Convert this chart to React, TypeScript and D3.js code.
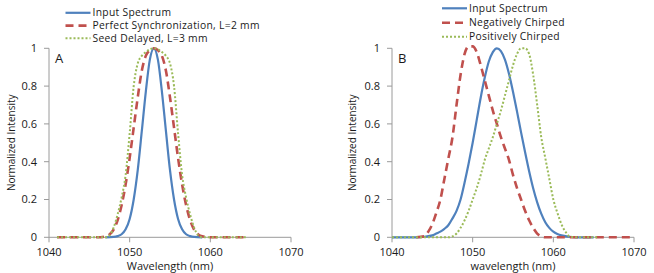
import React from 'react';
import * as d3 from 'd3';

// wavelength ticks and intensity ticks shared by both panels
const wavelengthTicks = [1040, 1050, 1060, 1070];
const intensityTicks = [0, 0.2, 0.4, 0.6, 0.8, 1];

// panel A: [wavelength nm, normalized intensity]
const inputSpectrumA: [number, number][] = [
  [1047, 0], [1048, 0.002], [1048.5, 0.006], [1049, 0.016], [1049.5, 0.042],
  [1050, 0.097], [1050.5, 0.2], [1051, 0.355], [1051.5, 0.56], [1052, 0.77],
  [1052.5, 0.94], [1053, 1], [1053.5, 0.94], [1054, 0.77], [1054.5, 0.56],
  [1055, 0.355], [1055.5, 0.2], [1056, 0.097], [1056.5, 0.042], [1057, 0.016],
  [1057.5, 0.006], [1058, 0.002], [1059, 0],
];
const perfectSyncA: [number, number][] = [
  [1041, 0], [1046, 0], [1047, 0.005], [1047.5, 0.015], [1048, 0.04], [1048.5, 0.09],
  [1049, 0.17], [1049.5, 0.28], [1050, 0.42], [1050.5, 0.58], [1051, 0.74],
  [1051.5, 0.88], [1052, 0.96], [1052.5, 0.99], [1053, 1], [1053.5, 0.99],
  [1054, 0.96], [1054.5, 0.88], [1055, 0.74], [1055.5, 0.58], [1056, 0.42],
  [1056.5, 0.28], [1057, 0.17], [1057.5, 0.09], [1058, 0.04], [1058.5, 0.015],
  [1059, 0.005], [1060, 0], [1064.5, 0],
];
const seedDelayedA: [number, number][] = [
  [1041, 0], [1047, 0], [1047.5, 0.01], [1048, 0.05], [1048.5, 0.12], [1049, 0.21],
  [1049.5, 0.33], [1050, 0.55], [1050.5, 0.8], [1051, 0.92], [1051.5, 0.96],
  [1052, 0.98], [1052.5, 0.995], [1053, 1], [1053.5, 0.995], [1054, 0.98],
  [1054.5, 0.96], [1055, 0.92], [1055.5, 0.8], [1056, 0.55], [1056.5, 0.33],
  [1057, 0.21], [1057.5, 0.12], [1058, 0.05], [1058.5, 0.01], [1059, 0], [1064.5, 0],
];

// panel B
const inputSpectrumB: [number, number][] = [
  [1040, 0], [1043, 0], [1044, 0.003], [1045, 0.01], [1045.5, 0.02], [1046, 0.03],
  [1046.5, 0.045], [1047, 0.065], [1047.5, 0.1], [1048, 0.14], [1048.5, 0.2],
  [1049, 0.29], [1049.5, 0.39], [1050, 0.5], [1050.5, 0.62], [1051, 0.74],
  [1051.5, 0.845], [1052, 0.93], [1052.5, 0.98], [1053, 1], [1053.5, 0.985],
  [1054, 0.94], [1054.5, 0.865], [1055, 0.77], [1055.5, 0.665], [1056, 0.555],
  [1056.5, 0.45], [1057, 0.35], [1057.5, 0.26], [1058, 0.185], [1058.5, 0.125],
  [1059, 0.08], [1059.5, 0.05], [1060, 0.03], [1060.5, 0.018], [1061, 0.01],
  [1062, 0.003], [1063, 0], [1065, 0],
];
const negChirpedB: [number, number][] = [
  [1043, 0], [1044, 0.005], [1044.5, 0.03], [1045, 0.07], [1045.5, 0.13],
  [1046, 0.2], [1046.5, 0.31], [1047, 0.42], [1047.5, 0.53], [1048, 0.7],
  [1048.5, 0.86], [1049, 0.97], [1049.5, 1.01], [1050, 1.01], [1050.5, 0.98],
  [1051, 0.91], [1051.5, 0.83], [1052, 0.75], [1052.5, 0.67], [1053, 0.6],
  [1053.5, 0.53], [1054, 0.47], [1054.5, 0.41], [1055, 0.33], [1055.5, 0.26],
  [1056, 0.2], [1056.5, 0.14], [1057, 0.09], [1057.5, 0.05], [1058, 0.02],
  [1058.5, 0.005], [1059, 0], [1070, 0],
];
const posChirpedB: [number, number][] = [
  [1040, 0], [1047, 0], [1047.5, 0.005], [1048, 0.02], [1048.5, 0.05], [1049, 0.09],
  [1049.5, 0.14], [1050, 0.2], [1050.5, 0.26], [1051, 0.33], [1051.5, 0.41],
  [1052, 0.47], [1052.5, 0.53], [1053, 0.6], [1053.5, 0.67], [1054, 0.75],
  [1054.5, 0.83], [1055, 0.91], [1055.5, 0.97], [1056, 1], [1056.5, 1],
  [1057, 0.97], [1057.5, 0.86], [1058, 0.7], [1058.5, 0.53], [1059, 0.42],
  [1059.5, 0.31], [1060, 0.2], [1060.5, 0.13], [1061, 0.07], [1061.5, 0.03],
  [1062, 0.005], [1063, 0], [1065.5, 0],
];

const legendA = ['Input Spectrum', 'Perfect Synchronization, L=2 mm', 'Seed Delayed, L=3 mm'];
const legendB = ['Input Spectrum', 'Negatively Chirped', 'Positively Chirped'];

const FONT = '"Open Sans", Lato, sans-serif';
const AXIS = '#9a9a9a';
const TEXT = '#1a1a1a';

// excel-ish line styles: solid blue, dashed red, dotted green
const styles = [
  {stroke: '#4F81BD', width: 2.2, dash: undefined as string | undefined},
  {stroke: '#C0504D', width: 2.6, dash: '8 5'},
  {stroke: '#9BBB59', width: 2, dash: '2 2'},
];

type PanelProps = {
  left: number;
  right: number;
  series: [number, number][][];
  labels: string[];
  letter: string;
  xTitle: string;
  yTitleX: number;
  legendX: number;
  legendY: number[];
};

const Panel = ({left, right, series, labels, letter, xTitle, yTitleX, legendX, legendY}: PanelProps) => {
  const top = 48.3;
  const bottom = 237.3;
  const x = d3.scaleLinear().domain([1040, 1070]).range([left, right]);
  const y = d3.scaleLinear().domain([0, 1]).range([bottom, top]);
  const path = d3.line<[number, number]>()
    .x(d => x(d[0]))
    .y(d => y(d[1]))
    .curve(d3.curveMonotoneX);

  return (
    <g fontFamily={FONT} fill={TEXT}>
      {/* axes */}
      <line x1={left} x2={left} y1={top} y2={bottom} stroke={AXIS} />
      <line x1={left} x2={right} y1={bottom} y2={bottom} stroke={AXIS} />
      {intensityTicks.map(t => (
        <g key={t}>
          <line x1={left - 5} x2={left} y1={y(t)} y2={y(t)} stroke={AXIS} />
          <text x={left - 12} y={y(t)} dy="0.35em" textAnchor="end" fontSize={11}>{t}</text>
        </g>
      ))}
      {wavelengthTicks.map(t => (
        <g key={t}>
          <line x1={x(t)} x2={x(t)} y1={bottom} y2={bottom + 5} stroke={AXIS} />
          <text x={x(t)} y={251.7} dy="0.35em" textAnchor="middle" fontSize={11}>{t}</text>
        </g>
      ))}
      <text x={(left + right) / 2} y={266} dy="0.35em" textAnchor="middle" fontSize={11}>{xTitle}</text>
      <text transform={`translate(${yTitleX},${(top + bottom) / 2}) rotate(-90)`} dy="0.35em"
        textAnchor="middle" fontSize={10}>Normalized Intensity</text>
      <text x={left + 6} y={58.5} dy="0.35em" fontSize={13}>{letter}</text>

      {series.map((s, i) => (
        <path key={i} d={path(s) || ''} fill="none" stroke={styles[i].stroke}
          strokeWidth={styles[i].width} strokeDasharray={styles[i].dash} />
      ))}

      {/* legend - rows are tight in the original, so a slightly smaller font with a bit of tracking */}
      {labels.map((l, i) => (
        <g key={l}>
          <line x1={legendX} x2={legendX + 25} y1={legendY[i]} y2={legendY[i]}
            stroke={styles[i].stroke} strokeWidth={styles[i].width} strokeDasharray={styles[i].dash} />
          <text x={legendX + 27} y={legendY[i]} dy="0.35em" fontSize={10.3} letterSpacing={0.3}>{l}</text>
        </g>
      ))}
    </g>
  );
};

const App = () => (
  <svg width={654} height={273} style={{position: 'absolute', left: 0, top: 0, background: '#fff'}}>
    <Panel left={49} right={291} series={[inputSpectrumA, perfectSyncA, seedDelayedA]}
      labels={legendA} letter="A" xTitle="Wavelength (nm)" yTitleX={11}
      legendX={65.5} legendY={[12.8, 25.6, 38.3]} />
    <Panel left={392} right={634} series={[inputSpectrumB, negChirpedB, posChirpedB]}
      labels={legendB} letter="B" xTitle="wavelength (nm)" yTitleX={352}
      legendX={442} legendY={[8.3, 22.7, 36.7]} />
  </svg>
);

export default App;
